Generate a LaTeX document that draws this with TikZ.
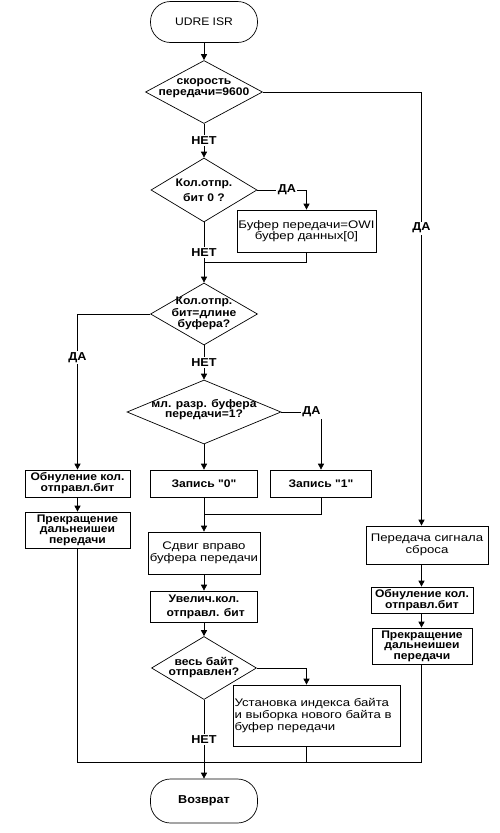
\documentclass[tikz,border=0pt]{standalone}
\usepackage{fontspec}
\setmainfont{Liberation Sans}[FakeStretch=1.1,Ligatures=TeXOff]
\newfontfamily\widefont{Liberation Sans}[FakeStretch=1.2,Ligatures=TeXOff]
\usetikzlibrary{shapes.geometric,arrows.meta,calc}
\begin{document}
\begin{tikzpicture}[x=1pt,y=-1pt,
  font=\fontsize{11}{11.5}\selectfont,
  ln/.style={line width=0.7pt},
  arr/.style={-{Triangle[length=6pt,width=6pt]}},
  box/.style={draw,line width=0.7pt,inner sep=1pt,align=center},
  rbox/.style={box,font=\widefont\fontsize{11}{11.5}\selectfont},
  bbox/.style={box,font=\fontsize{11}{11}\selectfont\bfseries},
  term/.style={draw,line width=0.7pt,rounded corners=20pt,align=center},
  dia/.style={draw,diamond,line width=0.7pt,inner sep=0pt},
  dt/.style={inner sep=0pt,align=center,font=\fontsize{11}{11}\selectfont\bfseries},
  lbl/.style={fill=white,inner sep=1.5pt,font=\fontsize{11.5}{11}\selectfont\bfseries}]
\useasboundingbox (0,0) rectangle (500,833);
\fill[white] (0,0) rectangle (500,833);

\node[term,minimum width=107pt,minimum height=41pt] (start) at (204,22) {UDRE ISR};

\node[dia,minimum width=117pt,minimum height=63pt] (d1) at (204,92) {};
\node[dt] at (204,88) {скорость\\передачи=9600};

\node[dia,minimum width=106pt,minimum height=64pt] (d2) at (204,190) {};
\node[dt,font=\fontsize{11}{15}\selectfont\bfseries] at (204,190.5) {Кол.отпр.\\бит 0 ?};

\node[rbox,minimum width=139pt,minimum height=42pt] (b1) at (306.5,231) {Буфер передачи=OWI\\буфер данных[0]};

\node[dia,minimum width=107pt,minimum height=62pt] (d3) at (204,314) {};
\node[dt,font=\fontsize{11}{8.5}\selectfont\bfseries] at (204,313.5) {Кол.отпр.\\бит=длине\\буфера?};

\node[dia,minimum width=154pt,minimum height=64pt] (d4) at (204,412) {};
\node[dt,font=\fontsize{11}{10}\selectfont\bfseries] at (204,410) {мл. разр. буфера\\передачи=1?};

\node[bbox,minimum width=105pt,minimum height=27pt] (b2) at (77.5,483.5) {Обнуление кол.\\отправл.бит};
\node[bbox,minimum width=107pt,minimum height=27pt] (b3) at (204,483.5) {Запись "0"};
\node[bbox,minimum width=101pt,minimum height=27pt] (b4) at (321,483.5) {Запись "1"};
\node[bbox,minimum width=105pt,minimum height=36pt,font=\fontsize{11}{10.5}\selectfont\bfseries] (b5) at (77.5,530) {Прекращение\\дальнеишеи\\передачи};

\node[rbox,minimum width=112pt,minimum height=42pt] (b6) at (204,553) {Сдвиг вправо\\буфера передачи};
\node[bbox,minimum width=107pt,minimum height=31pt,font=\fontsize{11}{14}\selectfont\bfseries] (b7) at (204,606.5) {Увелич.кол.\\\ отправл. бит};

\node[dia,minimum width=105pt,minimum height=63pt] (d5) at (204,668) {};
\node[dt,font=\fontsize{11}{10}\selectfont\bfseries] at (204,668) {весь байт\\отправлен?};

\node[rbox,minimum width=167pt,minimum height=61pt,text width=164pt,align=left,inner sep=1.5pt,font=\widefont\fontsize{11}{12}\selectfont] (b8) at (316.5,715.5) {Установка индекса байта\\и выборка нового байта в\\буфер передачи};

\node[rbox,minimum width=122pt,minimum height=38pt] (b9) at (427,545) {Передача сигнала\\сброса};
\node[bbox,minimum width=102pt,minimum height=26pt] (b10) at (422,600) {Обнуление кол.\\отправл.бит};
\node[bbox,minimum width=100pt,minimum height=36pt,font=\fontsize{11}{10.5}\selectfont\bfseries] (b11) at (422,646) {Прекращение\\дальнеишеи\\передачи};

\node[term,minimum width=107pt,minimum height=44pt,font=\fontsize{11.5}{11}\selectfont\bfseries] (end) at (204,801) {Возврат};

\coordinate (rx) at (421.5,92);
\coordinate (bus) at (0,762);

\draw[ln,arr] (start) -- (d1);
\draw[ln,arr] (d1) -- node[lbl]{НЕТ} (d2);
\draw[ln,arr] (d1.east) -| (b9.north -| rx) node[lbl,pos=0.657]{ДА};
\draw[ln,arr] (d2.east) -| (b1.north) node[lbl,pos=0.3]{ДА};
\draw[ln,arr] (d2) -- node[lbl]{НЕТ} (d3);
\draw[ln] (b1.south) |- ($(d2.south)!0.66!(d3.north)$);
\draw[ln,arr] (d3.west) -| (b2.north) node[lbl,pos=0.64]{ДА};
\draw[ln,arr] (d3) -- node[lbl]{НЕТ} (d4);
\draw[ln,arr] (d4.east) -| (b4.north) node[lbl,pos=0.38]{ДА};
\draw[ln,arr] (d4) -- (b3);
\draw[ln,arr] (b2) -- (b5);
\draw[ln,arr] (b3) -- (b6);
\draw[ln] (b4.south) |- ($(b3.south)!0.5!(b6.north)$);
\draw[ln,arr] (b6) -- (b7);
\draw[ln,arr] (b7) -- (d5);
\draw[ln,arr] (d5.east) -| (b8.north -| b1.south);
\draw[ln,arr] (d5) -- node[lbl]{НЕТ} (end);
\draw[ln] (b8.south -| b1.south) -- (bus -| b1.south);
\draw[ln] (b5.south) |- (bus -| rx) -- (b11.south -| rx);
\draw[ln,arr] (b9.south -| rx) -- (b10.north -| rx);
\draw[ln,arr] (b10.south -| rx) -- (b11.north -| rx);
\end{tikzpicture}
\end{document}
